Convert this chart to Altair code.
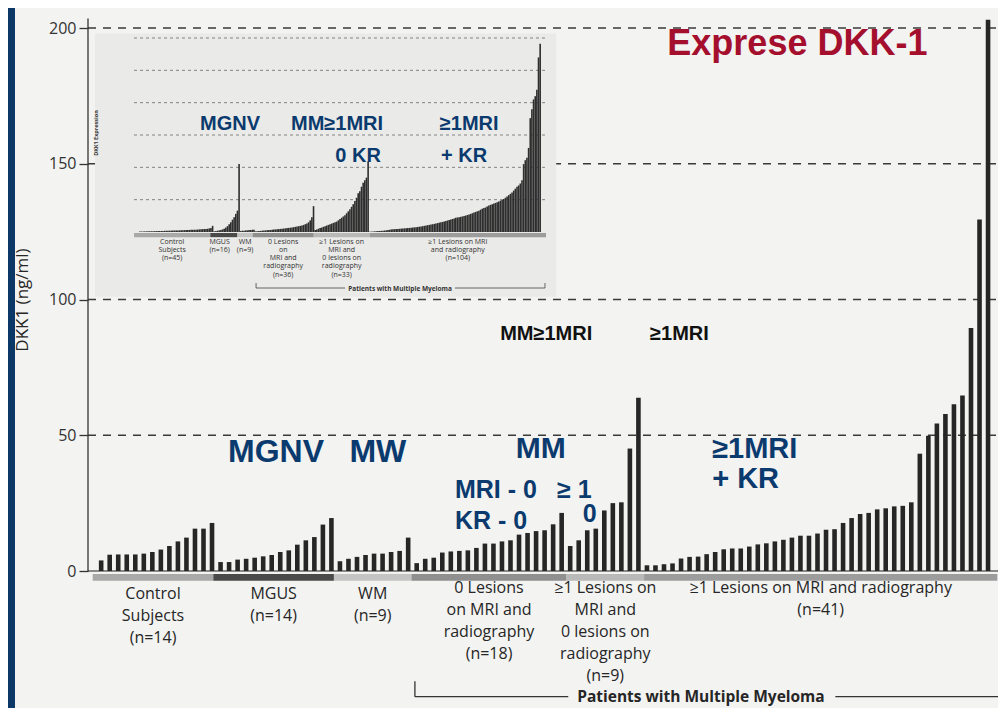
import altair as alt
import pandas as pd

# ---------------- main panel: serum DKK1 (ng/ml), one bar per patient ----------------
groups = ["Control", "MGUS", "WM", "0 Lesions", "MRI only", "MRI and radiography"]
control_vals = [3.9, 6.0, 6.1, 6.1, 6.1, 6.4, 7.0, 7.9, 9.2, 10.9, 12.3, 15.6, 15.6, 17.7]
mgus_vals = [3.3, 3.3, 4.2, 4.5, 4.9, 5.4, 5.9, 7.0, 7.6, 9.7, 11.3, 12.5, 17.1, 19.5]
wm_vals = [3.6, 4.5, 5.2, 5.9, 6.4, 6.4, 7.0, 7.4, 12.3]
les0_vals = [2.9, 4.5, 4.9, 6.8, 7.2, 7.4, 7.6, 8.5, 10.1, 10.1, 10.9, 11.3, 13.4, 14.0,
             14.7, 15.0, 17.2, 21.4]
mri_vals = [9.2, 11.3, 15.0, 15.6, 22.3, 25.0, 25.3, 45.1, 63.8]
both_vals = [2.1, 2.1, 2.5, 2.8, 4.6, 5.2, 5.3, 6.2, 7.0, 8.0, 8.3, 8.3, 9.0, 9.8, 10.2,
             10.9, 11.5, 12.3, 13.0, 13.0, 13.8, 15.2, 15.4, 17.7, 19.5, 21.0, 21.4, 22.7,
             23.1, 23.8, 24.0, 25.3, 43.2, 49.8, 54.3, 57.8, 61.4, 64.6, 89.5, 129.5, 203.0]
main_series = [control_vals, mgus_vals, wm_vals, les0_vals, mri_vals, both_vals]
main_group_labels = [
    "Control\nSubjects\n(n=14)",
    "MGUS\n(n=14)",
    "WM\n(n=9)",
    "0 Lesions\non MRI and\nradiography\n(n=18)",
    "≥1 Lesions on\nMRI and\n0 lesions on\nradiography\n(n=9)",
    "≥1 Lesions on MRI and radiography\n(n=41)",
]
y_ticks = [0, 50, 100, 150, 200]

# ---------------- inset: DKK1 gene expression ----------------
ins_control = [60, 70, 80, 90, 100, 100, 110, 120, 120, 130, 140, 150, 150, 160, 170, 180,
               190, 200, 200, 210, 220, 230, 240, 250, 260, 270, 280, 290, 300, 310, 320,
               330, 340, 350, 360, 380, 400, 420, 440, 460, 480, 500, 550, 600, 950]
ins_mgus = [100, 150, 200, 250, 300, 400, 500, 700, 900, 1200, 1500, 1900, 2300, 2800,
            3300, 10500]
ins_wm = [150, 200, 200, 250, 250, 300, 300, 350, 350]
ins_les0 = [100, 120, 150, 170, 200, 220, 250, 270, 300, 320, 350, 370, 400, 420, 450, 480,
            500, 530, 560, 600, 630, 670, 700, 750, 800, 850, 900, 950, 1000, 1100, 1200,
            1300, 1500, 1800, 2300, 4000]
ins_mri = [300, 400, 500, 600, 700, 800, 900, 1000, 1100, 1200, 1300, 1400, 1500, 1600,
           1800, 2000, 2200, 2400, 2600, 2900, 3200, 3500, 3900, 4300, 4800, 5300, 6000,
           6300, 7000, 7600, 8000, 8400, 10900]
ins_both = [50, 60, 80, 100, 120, 140, 160, 180, 200, 230, 260, 300, 340, 400,
            420, 440, 460, 480, 500, 520, 540, 560, 580, 600, 630, 660, 690, 720, 750, 780,
            820, 860, 900,
            950, 1000, 1050, 1100, 1150, 1200, 1260, 1320, 1380, 1440, 1500, 1560, 1620,
            1700, 1780, 1860, 1940, 2020, 2100, 2200,
            2250, 2300, 2350, 2400, 2480, 2550, 2620, 2700, 2800, 2900,
            3000, 3100, 3200, 3300, 3450, 3600, 3700, 3800, 3950, 4100,
            4200, 4300, 4400, 4500, 4600, 4700, 4850, 4950, 5100,
            5300, 5500, 5700, 5900, 6100, 6400,
            6700, 7000, 7200, 7500,
            8000, 10500, 11100, 11500, 13000, 17600, 19000, 20500, 21000, 22000, 27000, 29100]
ins_series = [ins_control, ins_mgus, ins_wm, ins_les0, ins_mri, ins_both]
ins_group_labels = [
    "Control\nSubjects\n(n=45)",
    "MGUS\n(n=16)",
    "WM\n(n=9)",
    "0 Lesions\non\nMRI and\nradiography\n(n=36)",
    "≥1 Lesions on\nMRI and\n0 lesions on\nradiography\n(n=33)",
    "≥1 Lesions on MRI\nand radiography\n(n=104)",
]
ins_ticks = [0, 5000, 10000, 15000, 20000, 25000, 30000]

# ---------------- styles ----------------
BLUE_BG = "#0c3868"
PAPER = "#f3f3f1"
NAVY = "#0b3a6e"
INK = "#262626"
LABEL = "#262626"
strip_colors = ["#a9a9a9", "#4a4a4a", "#c4c4c4", "#8f8f8f", "#b9b9b9", "#9c9c9c"]

XS = alt.Scale(domain=[-9.518, 104.58], nice=False, zero=False)
YS = alt.Scale(domain=[-50.46, 207.37], nice=False, zero=False)
XIS = alt.Scale(domain=[-0.5, 242.5], range=[119, 531], nice=False, zero=False)
YIS = alt.Scale(domain=[0, 30000], range=[224, 30], nice=False, zero=False)


def build(series):
    rows, spans = [], []
    i = 0
    for g, vals in zip(groups, series):
        start = i
        for v in vals:
            rows.append({"i": i, "v": v, "g": g})
            i += 1
        spans.append({"g": g, "a": start - 0.5, "b": i - 0.5, "c": (start + i - 1) / 2})
    return pd.DataFrame(rows), pd.DataFrame(spans)


main_df, main_spans = build(main_series)
ins_df, ins_spans = build(ins_series)


def X(f, s=XS):
    return alt.X(f, type="quantitative", scale=s, axis=None)


def Y(f, s=YS):
    return alt.Y(f, type="quantitative", scale=s, axis=None)


def texts(rows, size, color, align="center", weight="bold", font="Liberation Sans",
          angle=None, line_height=None, sx=XS, sy=YS):
    df = pd.DataFrame(rows, columns=["t", "x", "y"])
    kw = dict(align=align, baseline="alphabetic", fontSize=size, color=color,
              fontWeight=weight, font=font, lineBreak="\n")
    if angle is not None:
        kw["angle"] = angle
    if line_height is not None:
        kw["lineHeight"] = line_height
    return alt.Chart(df).mark_text(**kw).encode(x=X("x:Q", sx), y=Y("y:Q", sy), text="t:N")


axis_x = -1.045
x_end = 104.58

layers = []

# dashed reference lines of main panel
grid_df = pd.DataFrame({"v": y_ticks[1:], "a": axis_x, "b": x_end})
layers.append(alt.Chart(grid_df).mark_rule(color="#3a3a3a", strokeWidth=1.4, strokeDash=[8, 7])
              .encode(x=X("a:Q"), x2="b:Q", y=Y("v:Q")))

# inset paper
inset_bg = pd.DataFrame({"a": [-0.23], "b": [53.3], "lo": [101.0], "hi": [198.0]})
layers.append(alt.Chart(inset_bg).mark_rect(color="#eaeae8")
              .encode(x=X("a:Q"), x2="b:Q", y=Y("lo:Q"), y2="hi:Q"))

# inset gridlines
ig = pd.DataFrame({"v": ins_ticks[1:], "a": -0.5, "b": 242.5})
layers.append(alt.Chart(ig).mark_rule(color="#6a6a6a", strokeWidth=0.8, strokeDash=[3, 3])
              .encode(x=X("a:Q", XIS), x2="b:Q", y=Y("v:Q", YIS)))

# inset bars with inset axis
layers.append(alt.Chart(ins_df).mark_bar(width=1.6, color="#2e2e2e", orient="vertical")
              .encode(x=X("i:Q", XIS),
                      y=alt.Y("v:Q", scale=YIS,
                              axis=alt.Axis(orient="left", offset=-118, values=ins_ticks,
                                            format=",", labelFont="Open Sans",
                                            labelFontSize=6.5, labelColor="#555",
                                            tickSize=3, tickColor="#555", domainColor="#444",
                                            domainWidth=1, labelPadding=1, grid=False,
                                            title=None)),
                      y2=alt.datum(0)))

# inset group strip
ins_spans["lo"] = -150
ins_spans["hi"] = -800
layers.append(alt.Chart(ins_spans).mark_rect()
              .encode(x=X("a:Q", XIS), x2="b:Q", y=Y("lo:Q", YIS), y2="hi:Q",
                      color=alt.Color("g:N", scale=alt.Scale(domain=groups, range=strip_colors),
                                      legend=None)))

# inset group labels
ins_lab = [(t, c, -1780) for t, c in zip(ins_group_labels, ins_spans["c"])]
ins_lab[1] = (ins_lab[1][0], ins_lab[1][1] - 2.5, -1780)
layers.append(texts(ins_lab, 7, "#333", weight="normal", font="Open Sans",
                    line_height=8.3, sx=XIS, sy=YIS))
layers.append(texts([("DKK1 Expression", -21.7, 15300)], 5.5, "#333", weight="bold",
                    font="Open Sans", angle=270, sx=XIS, sy=YIS))

# inset bracket
ib = pd.DataFrame({"a": [71.5, 188.8], "b": [124.0, 241.9], "v": [-8660, -8660]})
layers.append(alt.Chart(ib).mark_rule(color="#444", strokeWidth=0.8)
              .encode(x=X("a:Q", XIS), x2="b:Q", y=Y("v:Q", YIS)))
ibv = pd.DataFrame({"x": [71.5, 241.9], "lo": [-8660, -8660], "hi": [-7887, -7887]})
layers.append(alt.Chart(ibv).mark_rule(color="#444", strokeWidth=0.8)
              .encode(x=X("x:Q", XIS), y=Y("lo:Q", YIS), y2="hi:Q"))
layers.append(texts([("Patients with Multiple Myeloma", 156.4, -9050)], 6.5, "#333",
                    weight="bold", font="Open Sans", sx=XIS, sy=YIS))

# main axis line and baseline
ax_df = pd.DataFrame({"x": [axis_x], "lo": [0.0], "hi": [203.5]})
layers.append(alt.Chart(ax_df).mark_rule(color="#333", strokeWidth=1.3)
              .encode(x=X("x:Q"), y=Y("lo:Q"), y2="hi:Q"))
base_df = pd.DataFrame({"a": [axis_x], "b": [x_end], "v": [0.0]})
layers.append(alt.Chart(base_df).mark_rule(color="#222", strokeWidth=1.2)
              .encode(x=X("a:Q"), x2="b:Q", y=Y("v:Q")))

# main group strip
main_spans["lo"] = -1.1
main_spans["hi"] = -3.6
layers.append(alt.Chart(main_spans).mark_rect()
              .encode(x=X("a:Q"), x2="b:Q", y=Y("lo:Q"), y2="hi:Q",
                      color=alt.Color("g:N", scale=alt.Scale(domain=groups, range=strip_colors),
                                      legend=None)))

# main bars with main axis
layers.append(alt.Chart(main_df).mark_bar(width=4.6, color=INK, orient="vertical")
              .encode(x=X("i:Q"),
                      y=alt.Y("v:Q", scale=YS,
                              axis=alt.Axis(orient="left", offset=-73, values=y_ticks,
                                            labelFont="Open Sans", labelFontSize=16,
                                            labelColor="#333", tickSize=9,
                                            tickColor="#333", tickWidth=1.3, domain=False,
                                            grid=False, title=None, labelPadding=3)),
                      y2=alt.datum(0)))

# main y title
layers.append(texts([("DKK1 (ng/ml)", -8.0, 99.8)], 17, LABEL, weight="normal",
                    font="Open Sans", angle=270))

# main group labels
main_lab = []
for k, (t, c) in enumerate(zip(main_group_labels, main_spans["c"])):
    main_lab.append((t, c, -10.3 if k < 3 else -8.1))
layers.append(texts(main_lab, 16, LABEL, weight="normal", font="Open Sans", line_height=22))

# bottom bracket
bb = pd.DataFrame({"a": [36.9, 85.7], "b": [54.7, x_end], "v": [-46.3, -46.3]})
layers.append(alt.Chart(bb).mark_rule(color="#333", strokeWidth=1.3)
              .encode(x=X("a:Q"), x2="b:Q", y=Y("v:Q")))
bbv = pd.DataFrame({"x": [36.9], "lo": [-46.3], "hi": [-40.6]})
layers.append(alt.Chart(bbv).mark_rule(color="#333", strokeWidth=1.3)
              .encode(x=X("x:Q"), y=Y("lo:Q"), y2="hi:Q"))
layers.append(texts([("Patients with Multiple Myeloma", 70.1, -48.3)], 15.5, LABEL,
                    weight="bold", font="Open Sans"))

# overlay annotations
layers.append(texts([("MGNV", 15.44, 162.4), ("MM≥1MRI", 27.86, 162.4), ("0 KR", 30.3, 150.6),
                     ("≥1MRI", 43.2, 162.4), ("+ KR", 42.6, 150.6)], 20, NAVY))
layers.append(texts([("MM≥1MRI", 46.8, 85.1), ("≥1MRI", 64.2, 85.1)], 20, "#111",
                    align="left"))
layers.append(texts([("MGNV", 20.78, 40.15), ("MW", 32.6, 40.15)], 32, NAVY))
layers.append(texts([("MM", 51.5, 41.6)], 30, NAVY))
layers.append(texts([("≥1MRI", 71.4, 41.8), ("+ KR", 71.4, 30.4)], 29, NAVY, align="left"))
layers.append(texts([("MRI - 0", 41.55, 26.9), ("≥ 1", 53.4, 26.9), ("KR  - 0", 41.55, 15.5)],
                    25, NAVY, align="left"))
layers.append(texts([("0", 57.2, 18.0)], 25, NAVY))
layers.append(texts([("Exprese DKK-1", 66.2, 190.1)], 36, "#a50f2e", align="left"))

chart = (
    alt.layer(*layers)
    .resolve_scale(x="independent", y="independent", color="independent")
    .properties(width=983, height=700,
                padding={"left": 7, "top": 0, "right": 0, "bottom": 0},
                autosize=alt.AutoSizeParams(type="none"),
                background=BLUE_BG)
    .configure_view(fill=PAPER, stroke=None)
)

chart.save("out.html", embed_options={"renderer": "svg", "actions": False})
